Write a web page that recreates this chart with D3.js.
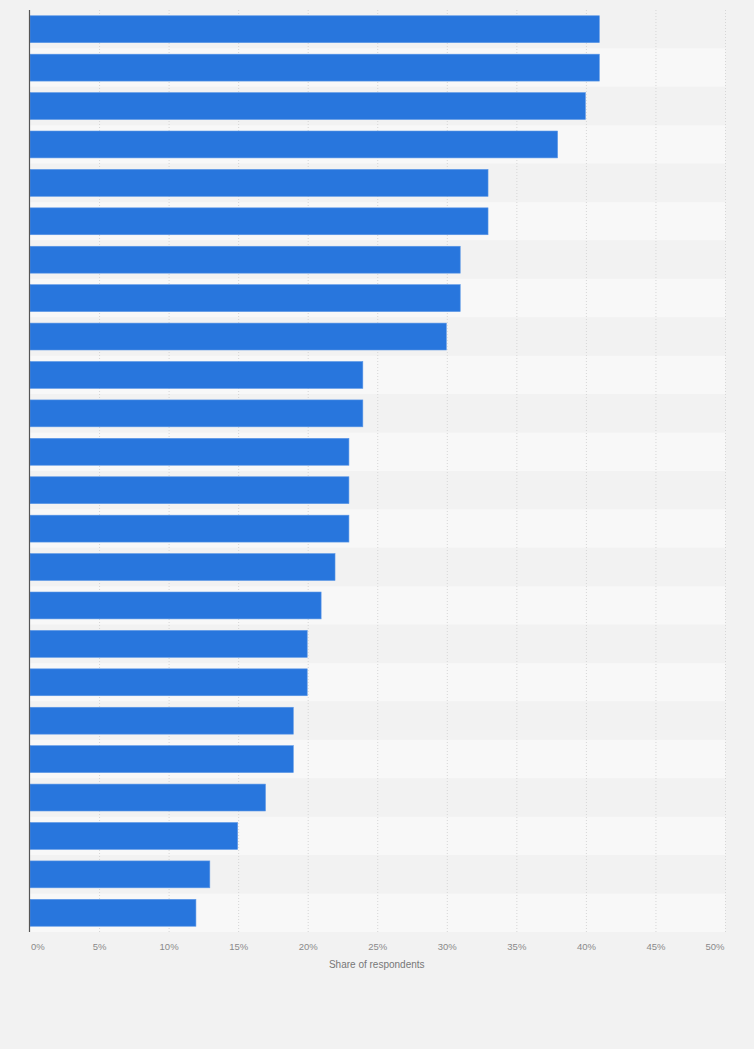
<!DOCTYPE html>
<html><head><meta charset="utf-8">
<script src="https://cdn.jsdelivr.net/npm/d3@7"></script>
<style>body{margin:0;background:#f2f2f2;}svg{display:block;}</style>
</head><body>
<script>
const categories = Array.from({length: 24}, (_, i) => "Category " + (i + 1));
const values = [41, 41, 40, 38, 33, 33, 31, 31, 30, 24, 24, 23, 23, 23, 22, 21, 20, 20, 19, 19, 17, 15, 13, 12];
const tickValues = [0, 5, 10, 15, 20, 25, 30, 35, 40, 45, 50];
const axisTitle = "Share of respondents";

const W = 754, H = 1049;
const m = {left: 30, right: 28.5, top: 10, bottom: 117};
const svg = d3.select("body").append("svg").attr("width", W).attr("height", H);
svg.append("rect").attr("width", W).attr("height", H).attr("fill", "#f2f2f2");

const x = d3.scaleLinear().domain([0, 50]).range([m.left, W - m.right]);
const y = d3.scaleBand().domain(categories).range([m.top, H - m.bottom]).paddingInner(0.3).paddingOuter(0.15);
const step = y.step();

// stripes
svg.append("g").selectAll("rect").data(categories).join("rect")
  .attr("x", m.left).attr("width", x(50) - m.left)
  .attr("y", (d, i) => m.top + i * step)
  .attr("height", step)
  .attr("fill", (d, i) => i % 2 ? "#f8f8f8" : "#f2f2f2");

// gridlines
svg.append("g").selectAll("line").data(tickValues.slice(1)).join("line")
  .attr("x1", d => x(d)).attr("x2", d => x(d))
  .attr("y1", m.top).attr("y2", H - m.bottom)
  .attr("stroke", "#d6d6d6").attr("stroke-width", 1).attr("stroke-dasharray", "1,2");

// bars
svg.append("g").selectAll("rect").data(values).join("rect")
  .attr("x", m.left).attr("y", (d, i) => y(categories[i]))
  .attr("width", d => x(d) - m.left - 1).attr("height", y.bandwidth())
  .attr("fill", "#2876dd").attr("stroke", "#5b97e6").attr("stroke-width", 0.6);

// axis line
svg.append("line").attr("x1", m.left - 0.5).attr("x2", m.left - 0.5)
  .attr("y1", m.top).attr("y2", H - m.bottom).attr("stroke", "#555").attr("stroke-width", 1.2);

// tick labels
const last = tickValues[tickValues.length - 1];
svg.append("g").selectAll("text").data(tickValues).join("text")
  .attr("x", d => d === 0 ? x(d) + 1 : d === last ? x(d) - 1 : x(d))
  .attr("y", H - m.bottom + 18)
  .attr("text-anchor", d => d === 0 ? "start" : d === last ? "end" : "middle")
  .attr("font-family", "'Liberation Sans', Arial, sans-serif")
  .attr("font-size", 9.5).attr("fill", "#8a8a8a")
  .text(d => d + "%");

svg.append("text").attr("x", (x(0) + x(50)) / 2 - 1).attr("y", H - m.bottom + 36)
  .attr("text-anchor", "middle")
  .attr("font-family", "'Liberation Sans', Arial, sans-serif")
  .attr("font-size", 10).attr("fill", "#777").text(axisTitle);
</script>
</body></html>
